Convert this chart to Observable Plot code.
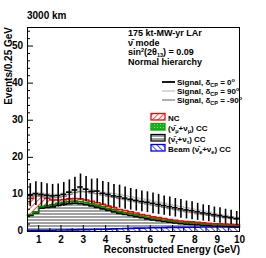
<!DOCTYPE html>
<html><head><meta charset="utf-8">
<script src="https://cdn.jsdelivr.net/npm/d3@7"></script>
<script src="https://cdn.jsdelivr.net/npm/@observablehq/plot@0.6"></script>
<style>
html,body{margin:0;padding:0;background:#fff;}
#chart{position:relative;width:266px;height:258px;}
svg text{font-family:"Liberation Sans",Arial,sans-serif;}
.ylab{position:absolute;left:0;width:23px;text-align:right;font:bold 10px "Liberation Sans",Arial,sans-serif;line-height:12px;color:#000;z-index:5;}
</style></head><body><div id="chart"></div>
<script>
// bin lower edges (GeV), width 0.25
const binLow = [0.5,0.75,1.0,1.25,1.5,1.75,2.0,2.25,2.5,2.75,3.0,3.25,3.5,3.75,4.0,4.25,4.5,4.75,5.0,5.25,5.5,5.75,6.0,6.25,6.5,6.75,7.0,7.25,7.5,7.75,8.0,8.25,8.5,8.75,9.0,9.25,9.5,9.75];
const binWidth = 0.25;
// background components (events per bin), bottom to top of the stack
const beam = [0.3,0.3,0.3,0.35,0.35,0.4,0.4,0.45,0.45,0.5,0.5,0.55,0.6,0.6,0.65,0.7,0.75,0.8,0.85,0.9,0.9,0.95,1.0,1.0,1.05,1.1,1.1,1.1,1.15,1.15,1.15,1.2,1.2,1.2,1.2,1.2,1.15,1.15];
const tauCC = [4.0,4.7,6.0,6.15,6.25,6.6,6.9,7.05,7.15,7.0,6.7,6.35,5.9,5.5,5.05,4.6,4.15,3.8,3.45,3.1,2.8,2.45,2.1,1.9,1.65,1.4,1.2,1.0,0.85,0.75,0.65,0.5,0.4,0.3,0.3,0.2,0.25,0.15];
const numuCC = [0.3,0.3,0.4,0.5,0.6,0.6,0.6,0.6,0.6,0.6,0.6,0.6,0.6,0.6,0.55,0.55,0.5,0.5,0.5,0.5,0.45,0.45,0.45,0.45,0.4,0.4,0.4,0.4,0.4,0.4,0.4,0.35,0.35,0.35,0.35,0.35,0.35,0.35];
const ncBkg = [4.3,4.4,2.8,2.0,1.3,0.9,0.7,0.7,0.7,0.7,0.7,0.65,0.65,0.6,0.6,0.6,0.55,0.55,0.5,0.5,0.45,0.45,0.4,0.4,0.4,0.35,0.35,0.35,0.3,0.3,0.3,0.3,0.25,0.25,0.25,0.25,0.2,0.2];
// signal + background totals
const sigDcp0 = [9.8,10.2,10.0,9.8,9.6,9.7,10.0,10.6,11.2,12.0,11.4,10.8,10.9,10.3,10.0,9.6,9.4,9.0,8.7,8.4,8.1,7.9,7.6,7.3,7.0,6.7,6.4,6.1,5.8,5.6,5.3,5.0,4.8,4.5,4.3,4.0,3.8,3.5];
const sigDcp90 = [10.0,10.5,10.3,10.2,10.0,10.0,10.3,10.8,11.3,11.6,11.5,11.2,11.0,10.6,10.4,10.2,10.0,9.7,9.4,9.1,8.8,8.5,8.2,7.9,7.6,7.3,7.0,6.7,6.4,6.1,5.8,5.5,5.2,4.9,4.6,4.3,4.0,3.7];
const sigDcpM90 = [9.3,9.7,9.5,9.3,9.1,9.2,9.5,10.0,10.5,10.8,10.7,10.4,10.2,9.8,9.5,9.2,8.9,8.6,8.3,8.0,7.7,7.4,7.1,6.8,6.5,6.2,5.9,5.6,5.3,5.1,4.8,4.6,4.4,4.1,3.9,3.7,3.5,3.3];
const sigErr = [3.1,3.2,3.2,3.1,3.1,3.1,3.2,3.3,3.4,3.5,3.4,3.3,3.3,3.2,3.2,3.1,3.1,3.0,2.9,2.9,2.8,2.8,2.8,2.7,2.6,2.6,2.5,2.5,2.4,2.4,2.3,2.2,2.2,2.1,2.1,2.0,1.9,1.9];
const yTicks = [0,10,20,30,40,50];
const yMinor = [2,4,6,8,12,14,16,18,22,24,26,28,32,34,36,38,42,44,46,48,52,54];
const xTicks = [1,2,3,4,5,6,7,8,9,10];
const xMinor = [0.5,1.5,2.5,3.5,4.5,5.5,6.5,7.5,8.5,9.5];

const comps = [
  {name:"beam", vals: beam, fill:"url(#hBlue)", stroke:"#0000ee"},
  {name:"tau", vals: tauCC, fill:"url(#hGray)", stroke:"#000"},
  {name:"numu", vals: numuCC, fill:"url(#hGreen)", stroke:"#008a00"},
  {name:"nc", vals: ncBkg, fill:"url(#hRed)", stroke:"#ff0000"}
];
const cum = binLow.map(() => 0);
const rects = [], tops = [];
for (const c of comps) {
  const r = [], t = [];
  binLow.forEach((x, i) => {
    const y1 = cum[i], y2 = cum[i] + c.vals[i];
    r.push({x1: x, x2: x + binWidth, y1, y2});
    t.push({x, y: y2});
    cum[i] = y2;
  });
  t.push({x: binLow[binLow.length-1] + binWidth, y: t[t.length-1].y});
  rects.push(r); tops.push(t);
}
function stepPts(s){ const p = binLow.map((x,i)=>({x, y:s[i]})); p.push({x: binLow[binLow.length-1]+binWidth, y: s[s.length-1]}); return p; }
const sigBins = binLow.map((x,i)=>({x1:x, x2:x+binWidth, xc:x+binWidth/2, y:sigDcp0[i], lo:sigDcp0[i]-sigErr[i], hi:sigDcp0[i]+sigErr[i]}));

const marks = [];
comps.forEach((c, k) => {
  marks.push(Plot.rect(rects[k], {x1:"x1", x2:"x2", y1:"y1", y2:"y2", fill:c.fill, shapeRendering:"crispEdges"}));
});
comps.forEach((c, k) => {
  marks.push(Plot.line(tops[k], {x:"x", y:"y", curve:"step-after", stroke:c.stroke, strokeWidth:1.6}));
});
marks.push(Plot.line(stepPts(sigDcpM90), {x:"x", y:"y", curve:"step-after", stroke:"#8c8c8c", strokeWidth:1.4}));
marks.push(Plot.line(stepPts(sigDcp90), {x:"x", y:"y", curve:"step-after", stroke:"#c8c8c8", strokeWidth:1.4}));
marks.push(Plot.ruleX(sigBins, {x:"xc", y1:"lo", y2:"hi", stroke:"#000", strokeWidth:1.6}));
marks.push(Plot.ruleY(sigBins, {x1:"x1", x2:"x2", y:"y", stroke:"#000", strokeWidth:1.6}));
marks.push(Plot.frame({stroke:"#000", strokeWidth:1}));
marks.push(Plot.axisY(yTicks, {tickSize:-6, tickFormat:()=>"", label:null}));
marks.push(Plot.axisY(yMinor, {tickSize:-3, tickFormat:()=>"", label:null}));
marks.push(Plot.axisX(xTicks, {tickSize:-6, tickFormat:()=>"", label:null}));
marks.push(Plot.axisX(xMinor, {tickSize:-3, tickFormat:()=>"", label:null}));
marks.push(Plot.axisX(xTicks, {tickSize:0, tickPadding:4, label:null, fontWeight:"bold", fontSize:10}));

const svg = Plot.plot({
  width:266, height:258,
  marginLeft:27, marginRight:27, marginTop:27, marginBottom:27,
  x:{domain:[0.5,10]},
  y:{domain:[0,55]},
  style:{fontFamily:"Liberation Sans, Arial, sans-serif", fontSize:"10px", background:"#fff", color:"#000"},
  marks
});
const s = d3.select(svg);
const defs = s.insert("defs", ":first-child");
function hatch(id, color, angle, bg){
  const p = defs.append("pattern").attr("id", id).attr("patternUnits","userSpaceOnUse")
    .attr("width",4).attr("height",4).attr("patternTransform",`rotate(${angle})`);
  p.append("rect").attr("width",4).attr("height",4).attr("fill",bg);
  p.append("line").attr("x1",0).attr("y1",0).attr("x2",0).attr("y2",4).attr("stroke",color).attr("stroke-width",1.6);
}
hatch("hRed","#ff2020",45,"#fff");
hatch("hBlue","#2020ff",-45,"#fff");
{
  const p = defs.append("pattern").attr("id","hGray").attr("patternUnits","userSpaceOnUse").attr("width",4).attr("height",3);
  p.append("rect").attr("width",4).attr("height",3).attr("fill","#fff");
  p.append("rect").attr("width",4).attr("height",2).attr("fill","#a0a0a0");
}
{
  const p = defs.append("pattern").attr("id","hGreen").attr("patternUnits","userSpaceOnUse").attr("width",3).attr("height",3);
  p.append("rect").attr("width",3).attr("height",3).attr("fill","#1fae1f");
  p.append("rect").attr("x",1).attr("y",1).attr("width",1).attr("height",1).attr("fill","#7fd87f");
}
const T = s.append("g").attr("font-weight","bold").attr("fill","#000").attr("text-anchor","start");
T.append("text").attr("x",27).attr("y",19).attr("font-size",10).text("3000 km");
T.append("text").attr("transform","translate(12,27) rotate(-90)").attr("text-anchor","end").attr("font-size",10).text("Events/0.25 GeV");
T.append("text").attr("x",240).attr("y",253).attr("text-anchor","end").attr("font-size",10).text("Reconstructed Energy (GeV)");
const fs = 9, fs2 = 8;
T.append("text").attr("x",128).attr("y",36).attr("font-size",fs).text("175 kt-MW-yr LAr");
T.append("text").attr("x",128).attr("y",46).attr("font-size",fs).text("\u03BD\u0304 mode");
{
  const t = T.append("text").attr("x",128).attr("y",55).attr("font-size",fs);
  t.append("tspan").text("sin");
  t.append("tspan").attr("font-size",5.5).attr("dy",-3.5).text("2");
  t.append("tspan").attr("dy",3.5).text("(2\u03B8");
  t.append("tspan").attr("font-size",5.5).attr("dy",1.5).text("13");
  t.append("tspan").attr("dy",-1.5).text(") = 0.09");
}
T.append("text").attr("x",128).attr("y",65).attr("font-size",fs).text("Normal hierarchy");
const sigLeg = [["0","#000",1.8,85],["90","#c8c8c8",1.4,94],["-90","#8c8c8c",1.4,103]];
for (const [deg,col,w,yb] of sigLeg){
  s.append("line").attr("x1",162).attr("x2",175).attr("y1",yb-3).attr("y2",yb-3).attr("stroke",col).attr("stroke-width",w);
  const t = T.append("text").attr("x",177).attr("y",yb).attr("font-size",fs2);
  t.append("tspan").text("Signal, \u03B4");
  t.append("tspan").attr("font-size",5.5).attr("dy",1.5).text("CP");
  t.append("tspan").attr("dy",-1.5).text(" = " + deg);
  t.append("tspan").attr("font-size",5.5).attr("dy",-3.5).text("o");
}
const boxLeg = [["hRed","#ff0000",121,[["NC"]]],
  ["hGreen","#00aa00",131,[["(\u03BD\u0304"],["\u03BC","sub"],["+\u03BD"],["\u03BC","sub"],[") CC"]]],
  ["hGray","#000",142,[["(\u03BD\u0304"],["\u03C4","sub"],["+\u03BD"],["\u03C4","sub"],[") CC"]]],
  ["hBlue","#0000ff",152,[["Beam (\u03BD\u0304"],["e","sub"],["+\u03BD"],["e","sub"],[") CC"]]]];
for (const [pat,col,yb,parts] of boxLeg){
  s.append("rect").attr("x",151).attr("y",yb-7.5).attr("width",14).attr("height",6.5).attr("fill",`url(#${pat})`).attr("stroke",col).attr("stroke-width",1.3);
  const t = T.append("text").attr("x",168).attr("y",yb).attr("font-size",fs2);
  let prevSub = false;
  for (const [txt,kind] of parts){
    if (kind==="sub") { t.append("tspan").attr("font-size",5.5).attr("dy",prevSub?0:1.5).text(txt); prevSub = true; }
    else { t.append("tspan").attr("dy", prevSub ? -1.5 : 0).text(txt); prevSub = false; }
  }
}
const chart = document.getElementById("chart");
chart.appendChild(svg);
// y tick labels placed with Plot's own y scale, layered above the SVG
const yScale = svg.scale("y");
for (const v of yTicks) {
  const d = document.createElement("div");
  d.className = "ylab";
  d.style.top = (yScale.apply(v) - 6) + "px";
  d.textContent = String(v);
  chart.appendChild(d);
}
</script></body></html>
